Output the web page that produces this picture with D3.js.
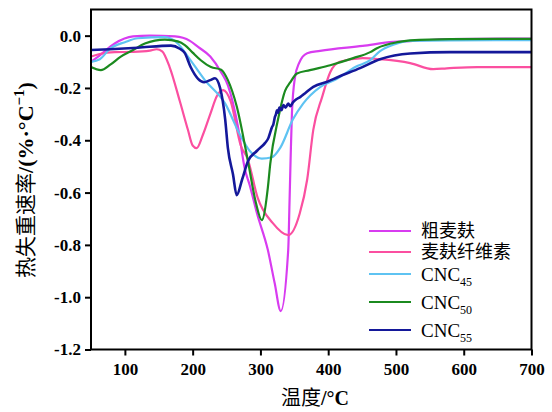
<!DOCTYPE html>
<html>
<head>
<meta charset="utf-8">
<script src="https://cdn.jsdelivr.net/npm/d3@7"></script>
<style>
  body { margin: 0; background: #fff; }
</style>
</head>
<body>
<div id="chart"></div>
<script>
// temperature (°C) and DTG (%/°C)
var crudeT = [50, 63, 85, 112, 137, 174, 196, 208, 226, 242, 252, 267, 277, 284, 295, 311, 321, 330, 341, 343, 344.5, 346.5, 351, 357, 369, 388, 451, 496, 521, 580, 700];
var crudeV = [-0.10, -0.075, -0.03, -0.003, 0.0, -0.003, -0.02, -0.043, -0.08, -0.14, -0.19, -0.35, -0.51, -0.57, -0.68, -0.82, -0.946, -1.053, -0.82, -0.63, -0.476, -0.296, -0.159, -0.105, -0.067, -0.058, -0.039, -0.024, -0.021, -0.013, -0.011];

var celluT = [50, 63, 85, 112, 137, 147, 155, 166, 181, 193, 200, 206, 215, 226, 236, 245, 256, 271, 281, 296, 318, 341, 358, 369, 378, 391, 403, 417, 451, 476, 521, 555, 575, 620, 700];
var celluV = [-0.08, -0.07, -0.063, -0.062, -0.057, -0.052, -0.06, -0.12, -0.25, -0.36, -0.42, -0.43, -0.38, -0.30, -0.23, -0.208, -0.25, -0.42, -0.47, -0.62, -0.716, -0.763, -0.68, -0.55, -0.36, -0.235, -0.14, -0.10, -0.086, -0.09, -0.105, -0.128, -0.125, -0.12, -0.12];

var cnc45T = [50, 63, 78, 100, 119, 159, 178, 193, 218, 248, 270, 284, 302, 317, 329, 348, 363, 388, 413, 440, 462, 476, 496, 521, 580, 700];
var cnc45V = [-0.10, -0.09, -0.05, -0.025, -0.01, -0.006, -0.03, -0.08, -0.17, -0.26, -0.38, -0.44, -0.47, -0.465, -0.43, -0.32, -0.26, -0.197, -0.165, -0.12, -0.094, -0.06, -0.035, -0.02, -0.018, -0.017];

var cnc50T = [50, 64.5, 79, 94, 112, 129.5, 159, 178, 188.5, 200, 212, 227, 242, 252, 265, 281.6, 293.4, 302, 311, 314.5, 326, 336.5, 343.6, 354, 373, 403, 437, 462, 472, 502, 521, 580, 700];
var cnc50V = [-0.12, -0.132, -0.11, -0.08, -0.055, -0.03, -0.015, -0.022, -0.036, -0.065, -0.094, -0.12, -0.13, -0.17, -0.27, -0.48, -0.64, -0.705, -0.58, -0.49, -0.32, -0.21, -0.18, -0.145, -0.132, -0.113, -0.086, -0.063, -0.048, -0.025, -0.018, -0.013, -0.012];

var cnc55T = [50, 78, 119, 168, 181, 188.5, 197, 208, 217, 226, 233, 240.5, 248, 252, 259.5, 265, 273, 281.6, 295, 307, 312, 314.5, 317, 319, 321.5, 323, 324.4, 326, 328, 331, 334, 337, 341, 344, 348, 352, 358.6, 366, 378, 400, 413, 447, 476.5, 521, 580, 700];
var cnc55V = [-0.055, -0.052, -0.046, -0.038, -0.05, -0.067, -0.12, -0.165, -0.178, -0.17, -0.163, -0.20, -0.32, -0.43, -0.53, -0.61, -0.55, -0.48, -0.44, -0.41, -0.39, -0.37, -0.35, -0.34, -0.31, -0.30, -0.285, -0.295, -0.275, -0.285, -0.265, -0.275, -0.26, -0.27, -0.255, -0.245, -0.235, -0.22, -0.196, -0.175, -0.16, -0.124, -0.09, -0.068, -0.063, -0.063];

var seriesNames = ["粗麦麸", "麦麸纤维素", "CNC", "CNC", "CNC"];
var seriesSubs = ["", "", "45", "50", "55"];
var seriesColors = ["#d83cf0", "#fb4fa0", "#5ec3f2", "#1b8a1f", "#14189a"];

var xTicks = [100, 200, 300, 400, 500, 600, 700];
var yTicks = [0.0, -0.2, -0.4, -0.6, -0.8, -1.0, -1.2];
var yTickLabels = ["0.0", "-0.2", "-0.4", "-0.6", "-0.8", "-1.0", "-1.2"];

var width = 552, height = 412;
var plotLeft = 91, plotRight = 531.5, plotTop = 9.5, plotBottom = 349.5;

var svg = d3.select("#chart").append("svg")
  .attr("width", width)
  .attr("height", height);

var x = d3.scaleLinear().domain([50, 700]).range([plotLeft, plotRight]);
var y = d3.scaleLinear().domain([-1.2, 0.1]).range([plotBottom, plotTop]);

var series = [[crudeT, crudeV], [celluT, celluV], [cnc45T, cnc45V], [cnc50T, cnc50V], [cnc55T, cnc55V]];

var line = d3.line()
  .x(function(d) { return x(d[0]); })
  .y(function(d) { return y(d[1]); })
  .curve(d3.curveMonotoneX);

svg.append("defs").append("clipPath").attr("id", "clip")
  .append("rect")
  .attr("x", plotLeft).attr("y", plotTop)
  .attr("width", plotRight - plotLeft).attr("height", plotBottom - plotTop);

var plot = svg.append("g").attr("clip-path", "url(#clip)");

series.forEach(function(s, i) {
  var pts = s[0].map(function(t, j) { return [t, s[1][j]]; });
  plot.append("path")
    .datum(pts)
    .attr("fill", "none")
    .attr("stroke", seriesColors[i])
    .attr("stroke-width", i == 4 ? 2.6 : 2.2)
    .attr("stroke-linejoin", "round")
    .attr("d", line);
});

// axes
var xAxis = d3.axisBottom(x).tickValues(xTicks).tickSize(6).tickPadding(7);
var yAxis = d3.axisLeft(y).tickValues(yTicks).tickSize(6).tickPadding(4)
  .tickFormat(function(d, i) { return yTickLabels[i]; });

var gx = svg.append("g").attr("transform", "translate(0," + plotBottom + ")").call(xAxis);
var gy = svg.append("g").attr("transform", "translate(" + plotLeft + ",0)").call(yAxis);

[gx, gy].forEach(function(g) {
  g.select(".domain").remove();
  g.selectAll(".tick line").attr("stroke", "#000").attr("stroke-width", 2);
  g.selectAll(".tick text")
    .attr("fill", "#000")
    .style("font-family", "'Liberation Serif', 'Times New Roman', serif")
    .style("font-weight", "bold")
    .style("font-size", "17px");
});

// frame
svg.append("rect")
  .attr("x", plotLeft).attr("y", plotTop)
  .attr("width", plotRight - plotLeft).attr("height", plotBottom - plotTop)
  .attr("fill", "none")
  .attr("stroke", "#000")
  .attr("stroke-width", 2);

// axis titles
var xt = svg.append("text")
  .attr("x", 315).attr("y", 405)
  .attr("text-anchor", "middle")
  .style("font-size", "20px");
xt.append("tspan").style("font-family", "'Noto Sans CJK SC'").text("温度");
xt.append("tspan")
  .style("font-family", "'Liberation Serif', serif")
  .style("font-weight", "bold")
  .text("/°C");

var yt = svg.append("text")
  .attr("transform", "translate(33,180) rotate(-90)")
  .attr("text-anchor", "middle")
  .style("font-size", "21px");
yt.append("tspan").style("font-family", "'Noto Sans CJK SC'").text("热失重速率");
yt.append("tspan")
  .style("font-family", "'Liberation Serif', serif")
  .style("font-weight", "bold")
  .style("font-size", "22px")
  .text("/(%·°C");
yt.append("tspan")
  .style("font-family", "'Liberation Serif', serif")
  .style("font-weight", "bold")
  .style("font-size", "15px")
  .attr("dy", -9)
  .text("−1");
yt.append("tspan")
  .style("font-family", "'Liberation Serif', serif")
  .style("font-weight", "bold")
  .style("font-size", "22px")
  .attr("dy", 9)
  .text(")");

// legend
var legendY = [231, 252, 274, 302, 330];
seriesNames.forEach(function(name, i) {
  var ly = legendY[i];
  svg.append("line")
    .attr("x1", 369).attr("x2", 411)
    .attr("y1", ly).attr("y2", ly)
    .attr("stroke", seriesColors[i])
    .attr("stroke-width", 2.2);
  var t = svg.append("text").attr("x", 421);
  if (seriesSubs[i] === "") {
    t.attr("y", ly + 6)
      .style("font-family", "'Noto Sans CJK SC'")
      .style("font-size", "18px")
      .text(name);
  } else {
    t.attr("y", ly + 7)
      .style("font-family", "'Liberation Serif', serif")
      .style("font-size", "19px");
    t.append("tspan").text(name);
    t.append("tspan").attr("dy", 5).style("font-size", "12px").text(seriesSubs[i]);
  }
});
</script>
</body>
</html>
